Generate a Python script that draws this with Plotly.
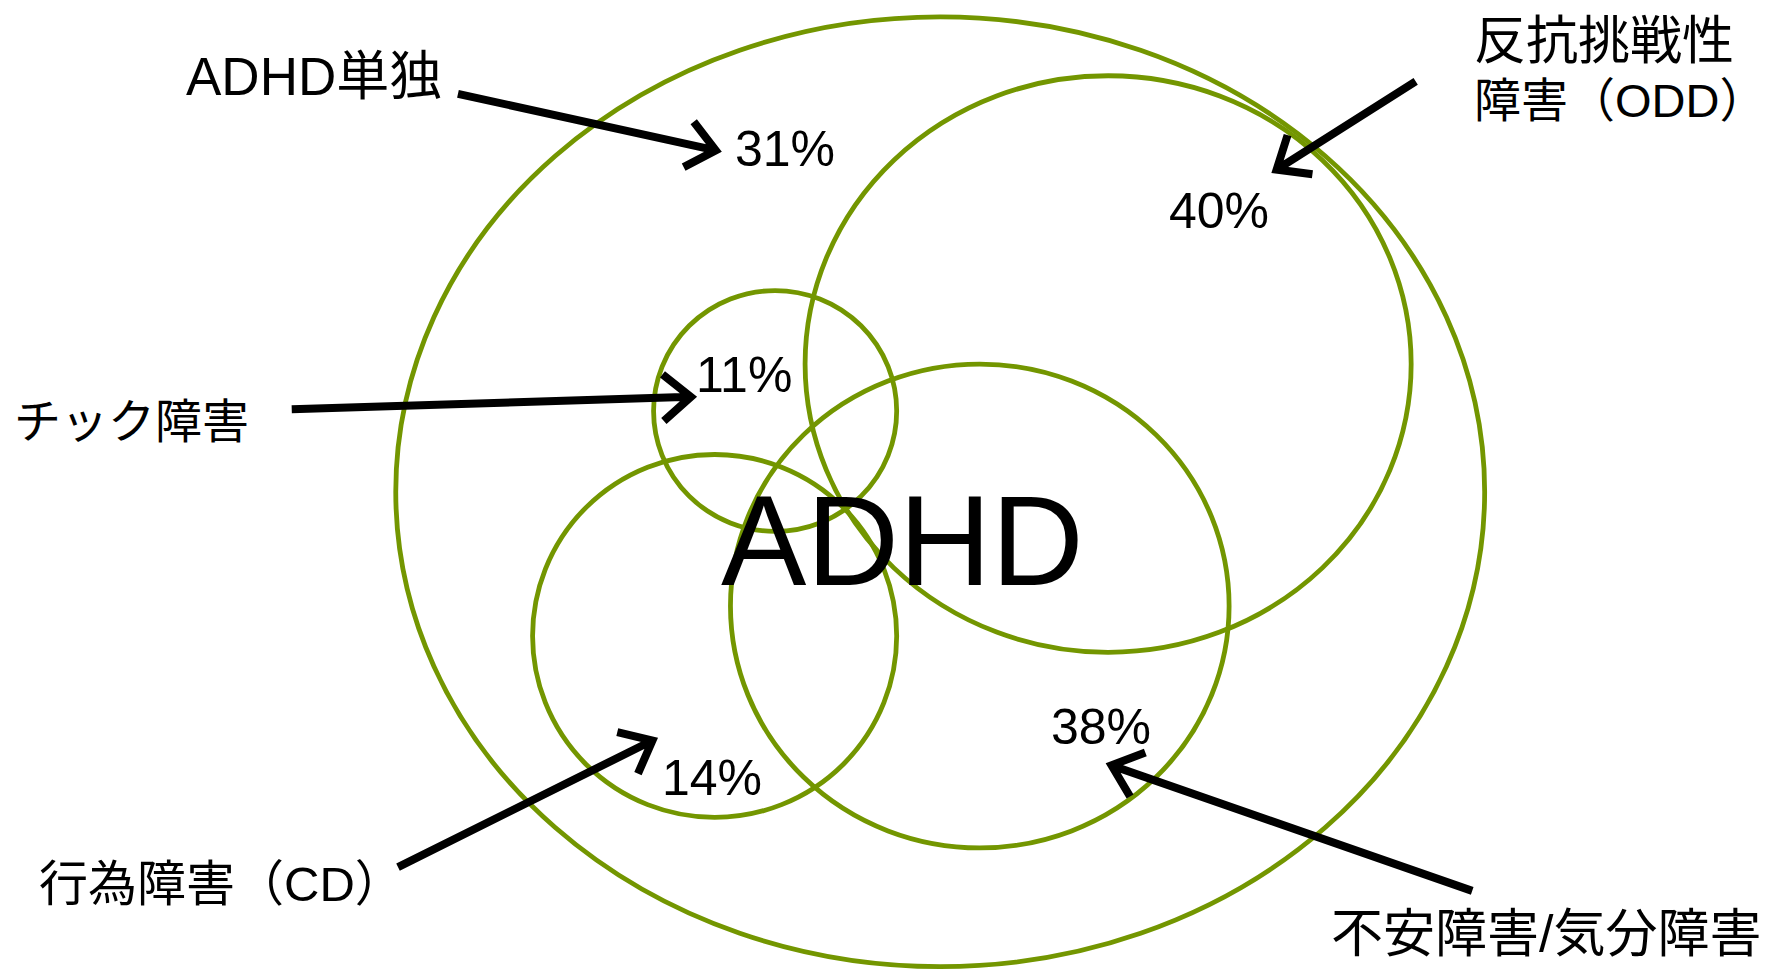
import math
import plotly.graph_objects as go

# ---- data ----
groups = ["ADHD単独", "反抗挑戦性障害（ODD）", "チック障害", "行為障害（CD）", "不安障害/気分障害"]
percent = [31, 40, 11, 14, 38]
center_label = "ADHD"

# ---- layout geometry (reference coordinates, 1568 x 858 canvas) ----
W, H = 1568, 858
ellipses = [  # x0, y0, x1, y1
    (350, 15, 1313, 855),    # ADHD
    (712, 67, 1248, 577),    # ODD
    (578, 257, 793, 470),    # tic
    (471, 402, 793, 723),    # CD
    (646, 322, 1087, 750),   # anxiety / mood
]
pct_pos = [(694, 132), (1078, 187), (658, 332), (630, 688), (974, 643)]
arrows = [  # start, tip
    ((405, 83), (633, 133)),
    ((1252, 72), (1129, 150)),
    ((258, 362), (611, 351)),
    ((352, 767), (577, 655)),
    ((1302, 788), (983, 677)),
]
label_specs = [  # text lines with (left x, center y, font size)
    [("ADHD単独", 163, 68, 53)],
    [("反抗挑戦性", 1302, 36, 52), ("障害（ODD）", 1302, 89, 47)],
    [("チック障害", 11, 373, 47)],
    [("行為障害（CD）", 33, 782, 49)],
    [("不安障害/気分障害", 1175, 826, 52)],
]

GREEN = "#739600"
FONT = "Liberation Sans, Arial, Noto Sans CJK JP, sans-serif"
FIG_W, FIG_H = 1765, 962          # page has an 8px body margin
SX, SY = 1773 / W, 970 / H

fig = go.Figure()
fig.add_trace(go.Scatter(x=[10, W - 10], y=[10, H - 10], mode="markers",
                         marker=dict(opacity=0), hoverinfo="skip", showlegend=False))

for (x0, y0, x1, y1) in ellipses:
    fig.add_shape(type="circle", xref="x", yref="y", x0=x0, y0=y0, x1=x1, y1=y1,
                  line=dict(color=GREEN, width=4.8), fillcolor="rgba(0,0,0,0)", layer="below")

for (s, t) in arrows:
    dx, dy = t[0] - s[0], t[1] - s[1]
    ang = math.atan2(dy, dx)
    L = 32
    spread = math.radians(40)
    a1 = (t[0] - L * math.cos(ang - spread), t[1] - L * math.sin(ang - spread))
    a2 = (t[0] - L * math.cos(ang + spread), t[1] - L * math.sin(ang + spread))
    path = (f"M {s[0]},{s[1]} L {t[0]},{t[1]} "
            f"M {a1[0]:.1f},{a1[1]:.1f} L {t[0]},{t[1]} L {a2[0]:.1f},{a2[1]:.1f}")
    fig.add_shape(type="path", xref="x", yref="y", path=path,
                  line=dict(color="black", width=8))

for p, (x, y) in zip(percent, pct_pos):
    fig.add_annotation(x=x, y=y, text=f"{p}%", showarrow=False, xanchor="center",
                       yanchor="middle", font=dict(family=FONT, size=50, color="black"))

for spec in label_specs:
    for (txt, x, y, sz) in spec:
        fig.add_annotation(x=x, y=y, text=txt, showarrow=False, xanchor="left",
                           yanchor="middle", font=dict(family=FONT, size=sz, color="black"))

fig.add_annotation(x=798, y=478, text=center_label, showarrow=False, xanchor="center",
                   yanchor="middle", font=dict(family=FONT, size=128, color="black"))

x_lo = 8 / SX
y_lo = 8 / SY
fig.update_xaxes(range=[x_lo, x_lo + FIG_W / SX], visible=False, fixedrange=True)
fig.update_yaxes(range=[y_lo + FIG_H / SY, y_lo], visible=False, fixedrange=True)
fig.update_layout(width=FIG_W, height=FIG_H, margin=dict(l=0, r=0, t=0, b=0),
                  paper_bgcolor="white", plot_bgcolor="white", showlegend=False)
fig.write_html("out.html")
